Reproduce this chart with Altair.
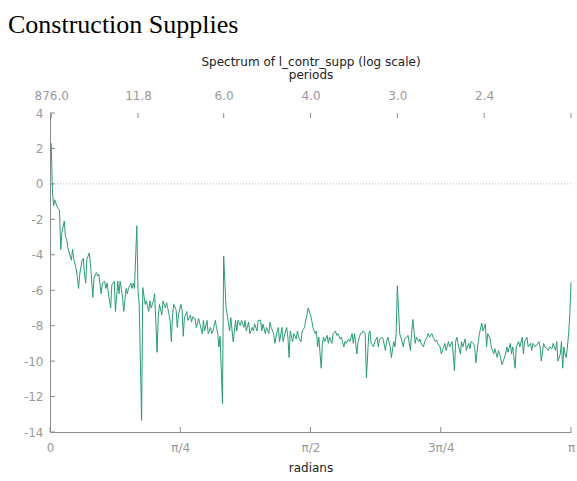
import json
import math

import altair as alt
import pandas as pd

CHART_TITLE = "Construction Supplies"
SERIES_TITLE = "Spectrum of l_contr_supp (log scale)"
N_OBS = 876  # sample length; Fourier frequencies are 2*pi*j/N_OBS

# Fourier frequency index j and the log periodogram ordinate at that frequency
freq_index = [
    1, 2, 3, 4, 6, 8, 9, 10, 12, 13, 14, 15, 17, 18, 19, 20, 22, 23, 24, 25,
    27, 28, 29, 30, 31, 33, 34, 36, 37, 39, 40, 41, 43, 44, 46, 47, 48, 50, 51, 52,
    54, 55, 57, 58, 59, 61, 62, 64, 65, 66, 68, 69, 70, 71, 73, 74, 75, 77, 78, 80,
    81, 83, 84, 85, 87, 88, 90, 91, 92, 94, 95, 97, 98, 99, 101, 102, 103, 104, 106, 107,
    108, 110, 111, 112, 113, 115, 116, 118, 119, 120, 122, 123, 125, 126, 128, 129, 130, 132, 133, 135,
    136, 137, 139, 140, 141, 142, 143, 145, 146, 148, 149, 151, 152, 154, 156, 157, 158, 160, 161, 163,
    164, 165, 167, 168, 170, 171, 172, 174, 175, 177, 178, 179, 181, 182, 184, 185, 186, 188, 189, 191,
    192, 193, 195, 196, 198, 199, 200, 201, 202, 204, 205, 207, 208, 209, 211, 212, 214, 215, 216, 217,
    219, 220, 221, 223, 224, 225, 226, 228, 229, 230, 231, 233, 234, 235, 237, 238, 240, 241, 242, 244,
    245, 247, 248, 249, 251, 252, 254, 255, 256, 258, 259, 261, 262, 263, 265, 266, 268, 269, 270, 272,
    273, 275, 276, 277, 279, 280, 282, 283, 284, 286, 287, 289, 290, 291, 292, 294, 296, 297, 298, 300,
    301, 303, 304, 305, 307, 308, 310, 311, 312, 314, 315, 317, 318, 319, 321, 322, 324, 325, 326, 328,
    329, 331, 332, 333, 335, 336, 338, 339, 340, 341, 342, 343, 345, 346, 347, 349, 350, 352, 353, 354,
    356, 357, 358, 360, 361, 363, 364, 366, 367, 368, 370, 371, 373, 374, 376, 377, 378, 380, 381, 383,
    384, 385, 387, 388, 389, 391, 392, 394, 395, 397, 398, 399, 401, 402, 404, 405, 406, 408, 409, 411,
    412, 413, 415, 416, 418, 419, 420, 422, 423, 425, 426, 427, 429, 430, 431, 432, 433, 434, 435, 436,
    437, 438,
]
log_spectrum = [
    2.3, -0.3, -1.24, -0.9, -1.3, -1.5, -3.7, -2.75, -2.1, -3.0, -3.1, -3.6, -4.07, -4.3, -3.7, -4.25, -4.8, -5.3, -5.9, -5.1,
    -4.3, -4.2, -5.1, -5.6, -4.25, -3.9, -4.5, -6.4, -5.3, -5.0, -5.2, -5.1, -6.2, -5.6, -5.5, -5.9, -5.6, -6.6, -7.0, -5.7,
    -5.5, -7.2, -5.5, -6.2, -5.5, -6.4, -7.2, -5.9, -6.2, -5.9, -5.6, -5.9, -5.6, -5.9, -2.37, -6.0, -6.8, -13.35, -5.85, -6.8,
    -6.6, -7.2, -6.6, -7.0, -6.6, -6.2, -9.5, -7.55, -6.8, -7.4, -6.6, -7.0, -6.7, -7.0, -7.7, -8.9, -7.4, -6.8, -7.1, -8.1,
    -7.4, -6.8, -7.1, -8.6, -7.55, -7.2, -7.7, -7.4, -7.8, -7.5, -7.6, -8.1, -7.6, -7.9, -8.45, -7.7, -8.3, -7.7, -8.45, -8.1,
    -8.45, -8.3, -7.7, -8.1, -8.45, -9.2, -8.6, -12.4, -4.07, -7.0, -7.4, -8.3, -7.55, -8.9, -7.7, -8.3, -7.7, -8.0, -7.7, -8.1,
    -7.7, -8.3, -7.8, -8.45, -8.1, -8.3, -7.9, -8.3, -7.7, -7.7, -8.3, -7.9, -8.45, -8.1, -8.45, -7.8, -8.1, -8.45, -9.0, -8.3,
    -8.1, -8.9, -8.1, -8.9, -8.3, -8.1, -8.65, -9.8, -8.3, -8.9, -8.45, -8.75, -8.3, -8.65, -8.9, -8.3, -8.1, -7.7, -7.4, -7.0,
    -7.4, -7.7, -8.1, -8.45, -8.3, -9.2, -8.65, -10.4, -9.0, -8.65, -8.9, -8.55, -9.0, -8.65, -9.0, -8.45, -8.3, -8.55, -8.45, -8.75,
    -8.65, -9.2, -8.9, -9.0, -8.75, -8.9, -8.45, -9.0, -8.45, -9.6, -8.9, -8.45, -8.45, -8.3, -8.45, -10.95, -8.45, -8.3, -9.0, -9.2,
    -8.9, -8.65, -9.2, -8.75, -8.65, -8.75, -9.4, -8.9, -8.65, -9.2, -9.8, -8.9, -9.2, -8.45, -5.75, -8.45, -8.9, -9.2, -8.75, -8.65,
    -8.55, -9.4, -8.45, -7.65, -9.0, -8.65, -8.9, -8.75, -9.0, -9.2, -8.9, -8.65, -8.45, -8.65, -8.45, -8.65, -8.9, -8.8, -9.0, -9.2,
    -9.6, -9.2, -9.0, -9.4, -8.9, -9.2, -8.9, -9.6, -10.55, -8.9, -8.65, -9.0, -9.6, -8.9, -9.2, -8.75, -9.4, -9.0, -9.3, -8.9,
    -9.0, -9.2, -10.1, -8.9, -8.45, -7.85, -8.3, -7.9, -9.2, -8.45, -8.75, -9.2, -9.6, -9.3, -9.8, -9.4, -9.6, -10.2, -10.0, -9.6,
    -9.2, -9.5, -9.0, -9.6, -9.2, -10.4, -9.2, -8.9, -9.2, -8.65, -9.6, -8.9, -8.65, -9.2, -9.0, -9.4, -9.0, -9.2, -9.1, -8.9,
    -9.2, -10.0, -9.0, -9.2, -9.3, -9.4, -9.2, -9.3, -9.0, -9.4, -8.9, -10.0, -9.6, -8.9, -10.4, -9.2, -9.6, -9.8, -9.2, -8.45,
    -7.4, -5.55,
]

# Axis ticks
y_ticks = [-14, -12, -10, -8, -6, -4, -2, 0, 2, 4]
radian_labels = ["0", "π/4", "π/2", "3π/4", "π"]
radian_ticks = [k * math.pi / 4 for k in range(len(radian_labels))]
period_tick_index = [1, 74, 146, 219, 292, 365, 438]
period_ticks = [2 * math.pi * j / N_OBS for j in period_tick_index]

spec = pd.DataFrame({"j": freq_index, "value": log_spectrum})
spec["omega"] = 2 * math.pi * spec["j"] / N_OBS

LINE_COLOR = "#2a9d74"
AXIS_COLOR = "#8c8c8c"
LABEL_COLOR = "#9a9a9a"
TEXT_COLOR = "#222222"
FONT = "DejaVu Sans"

W, H = 521, 319

x_scale = alt.Scale(domain=[0, math.pi], nice=False, zero=False)
y_scale = alt.Scale(domain=[-14, 4], nice=False, zero=False)

common_axis = dict(
    grid=False, ticks=False, labelColor=LABEL_COLOR, labelFont=FONT,
    labelFontSize=12, titleFont=FONT, titleFontSize=12, titleFontWeight="normal",
    titleColor=TEXT_COLOR, labelOverlap=False, labelFlush=False,
)

bottom_axis = alt.Axis(
    orient="bottom", values=radian_ticks,
    labelExpr=f"{json.dumps(radian_labels, ensure_ascii=False)}[round(datum.value * 4 / PI)]",
    domain=True, domainColor=AXIS_COLOR, labelPadding=10, title="radians",
    titlePadding=9, **common_axis,
)
left_axis = alt.Axis(
    orient="left", values=y_ticks, labelExpr="toString(datum.value)",
    domain=True, domainColor=AXIS_COLOR, labelPadding=7, title=None,
    **common_axis,
)
top_axis = alt.Axis(
    orient="top", values=period_ticks,
    labelExpr="datum.value > 3.1 ? '' : format(2 * PI / datum.value, '.1f')",
    domain=False, labelPadding=11, title=[SERIES_TITLE, "periods"],
    titlePadding=8, titleLineHeight=13, **common_axis,
)

zero_line = alt.Chart(pd.DataFrame({"level": [0]})).mark_rule(
    color="#b5b5b5", strokeDash=[1, 2], strokeWidth=1
).encode(y=alt.Y("level:Q", scale=y_scale, axis=None))

spectrum = alt.Chart(spec).mark_line(color=LINE_COLOR, strokeWidth=1).encode(
    x=alt.X("omega:Q", scale=x_scale, axis=bottom_axis),
    y=alt.Y("value:Q", scale=y_scale, axis=left_axis),
)

# inward tick marks on the left, bottom and top edges
left_ticks = alt.Chart(pd.DataFrame({"tick": y_ticks})).mark_rule(
    color=AXIS_COLOR
).encode(
    y=alt.Y("tick:Q", scale=y_scale, axis=None), x=alt.value(0), x2=alt.value(5)
)
bottom_ticks = alt.Chart(pd.DataFrame({"tick": radian_ticks})).mark_rule(
    color=AXIS_COLOR
).encode(
    x=alt.X("tick:Q", scale=x_scale, axis=None), y=alt.value(H), y2=alt.value(H - 5)
)
top_ticks = alt.Chart(pd.DataFrame({"tick": period_ticks})).mark_rule(
    color=AXIS_COLOR
).encode(
    x=alt.X("tick:Q", scale=x_scale, axis=top_axis), y=alt.value(0), y2=alt.value(5)
)

chart = (
    alt.layer(zero_line, left_ticks, bottom_ticks, top_ticks, spectrum)
    .resolve_axis(x="independent", y="independent")
    .properties(
        width=W,
        height=H,
        autosize=alt.AutoSizeParams(type="none"),
        padding={"left": 50, "top": 113, "right": 6, "bottom": 49},
        title=alt.TitleParams(
            CHART_TITLE, anchor="start", frame="group", dx=-42, offset=17,
            font="Liberation Serif", fontSize=26, fontWeight="normal",
            color="#000000",
        ),
        background="white",
    )
    .configure_view(stroke=None)
)

chart.save("out.html", embed_options={"renderer": "svg", "actions": False})
